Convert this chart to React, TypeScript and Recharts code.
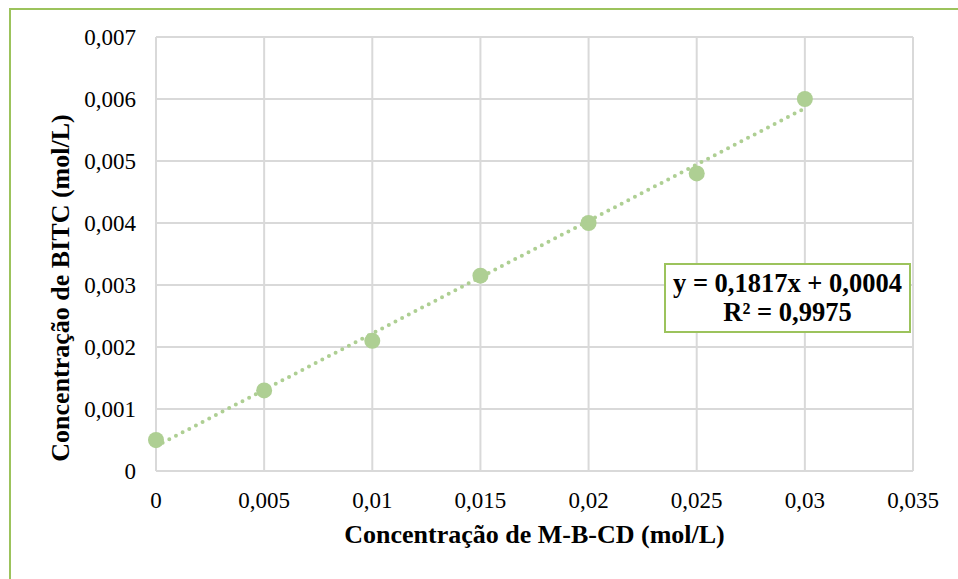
import React from 'react';
import {
  ScatterChart,
  Scatter,
  XAxis,
  YAxis,
  CartesianGrid,
} from 'recharts';

// Calibration data: M-B-CD concentration vs BITC concentration (mol/L)
const mbcdConc = [0, 0.005, 0.01, 0.015, 0.02, 0.025, 0.03];
const bitcConc = [0.0005, 0.0013, 0.0021, 0.00315, 0.004, 0.0048, 0.006];

const xTicks = [0, 0.005, 0.01, 0.015, 0.02, 0.025, 0.03, 0.035];
const yTicks = [0, 0.001, 0.002, 0.003, 0.004, 0.005, 0.006, 0.007];

// Linear fit reported on the chart
const fitSlope = 0.1817;
const fitIntercept = 0.0004;
const fitLabel = 'y = 0,1817x + 0,0004';
const r2Label = 'R² = 0,9975';

const xTitle = 'Concentração de M-B-CD (mol/L)';
const yTitle = 'Concentração de BITC (mol/L)';

const points = mbcdConc.map((x, i) => ({ x, y: bitcConc[i] }));
const fitRange = [mbcdConc[0], mbcdConc[mbcdConc.length - 1]];
const trend = fitRange.map((x) => ({ x, y: fitSlope * x + fitIntercept }));

const serif = "'Times New Roman', 'Liberation Serif', 'DejaVu Serif', serif";
const markerColor = '#AECF93';
const frameGreen = '#9CC35C';
const gridColor = '#D9D9D9';

const fmt = (v: number) => String(v).replace('.', ',');

const tickStyle = { fill: '#000', fontSize: 23, fontFamily: serif };
const titleStyle = { fill: '#000', fontSize: 26, fontWeight: 'bold', fontFamily: serif };

// Vertical axis title, set a little below the middle of the axis
const YTitle = (props: any) => {
  const vb = props.viewBox || { x: 76, y: 37, width: 80, height: 434 };
  const cx = vb.x - 16;
  const cy = vb.y + vb.height / 2 + 34;
  return (
    <text
      x={cx}
      y={cy}
      transform={`rotate(-90, ${cx}, ${cy})`}
      textAnchor="middle"
      dominantBaseline="central"
      style={titleStyle as any}
    >
      {yTitle}
    </text>
  );
};

export default function App() {
  return (
    <div
      style={{
        position: 'absolute',
        left: 0,
        top: 0,
        width: 958,
        height: 579,
        background: '#fff',
        overflow: 'hidden',
        fontFamily: serif,
      }}
    >
      <div
        style={{
          position: 'absolute',
          left: 9,
          top: 8,
          width: 1000,
          height: 700,
          borderLeft: `2px solid ${frameGreen}`,
          borderTop: `2px solid ${frameGreen}`,
          boxSizing: 'border-box',
        }}
      />
      <ScatterChart
        width={958}
        height={579}
        margin={{ top: 37, right: 45, bottom: 68, left: 76 }}
        style={{ position: 'absolute', left: 0, top: 0, fontFamily: serif }}
      >
        <CartesianGrid stroke={gridColor} strokeWidth={2} />
        <XAxis
          type="number"
          dataKey="x"
          domain={[0, 0.035]}
          ticks={xTicks}
          tickFormatter={fmt}
          axisLine={{ stroke: gridColor, strokeWidth: 2 }}
          tickLine={false}
          height={40}
          tickMargin={15}
          tick={tickStyle}
          fontFamily={serif}
          label={{
            value: xTitle,
            position: 'insideBottom',
            offset: -32,
            fontFamily: serif,
            style: titleStyle,
          }}
        />
        <YAxis
          type="number"
          dataKey="y"
          domain={[0, 0.007]}
          ticks={yTicks}
          tickFormatter={fmt}
          axisLine={{ stroke: gridColor, strokeWidth: 2 }}
          tickLine={false}
          width={80}
          tickMargin={14}
          tick={tickStyle}
          fontFamily={serif}
          label={{ content: YTitle }}
        />
        <Scatter
          data={points}
          fill={markerColor}
          isAnimationActive={false}
          shape={(p: any) => <circle cx={p.cx} cy={p.cy} r={8} fill={markerColor} />}
        />
        <Scatter
          data={trend}
          isAnimationActive={false}
          line={{
            stroke: markerColor,
            strokeWidth: 4,
            strokeDasharray: '0 7.5',
            strokeLinecap: 'round',
          }}
          shape={() => <g />}
        />
      </ScatterChart>
      <div
        style={{
          position: 'absolute',
          left: 664,
          top: 263,
          width: 247,
          height: 70,
          border: `2px solid ${frameGreen}`,
          boxSizing: 'border-box',
          background: '#fff',
          textAlign: 'center',
          fontWeight: 'bold',
          fontSize: 26.5,
          lineHeight: '29px',
          paddingTop: 4,
          color: '#000',
          whiteSpace: 'nowrap',
        }}
      >
        <div>{fitLabel}</div>
        <div>{r2Label}</div>
      </div>
    </div>
  );
}
